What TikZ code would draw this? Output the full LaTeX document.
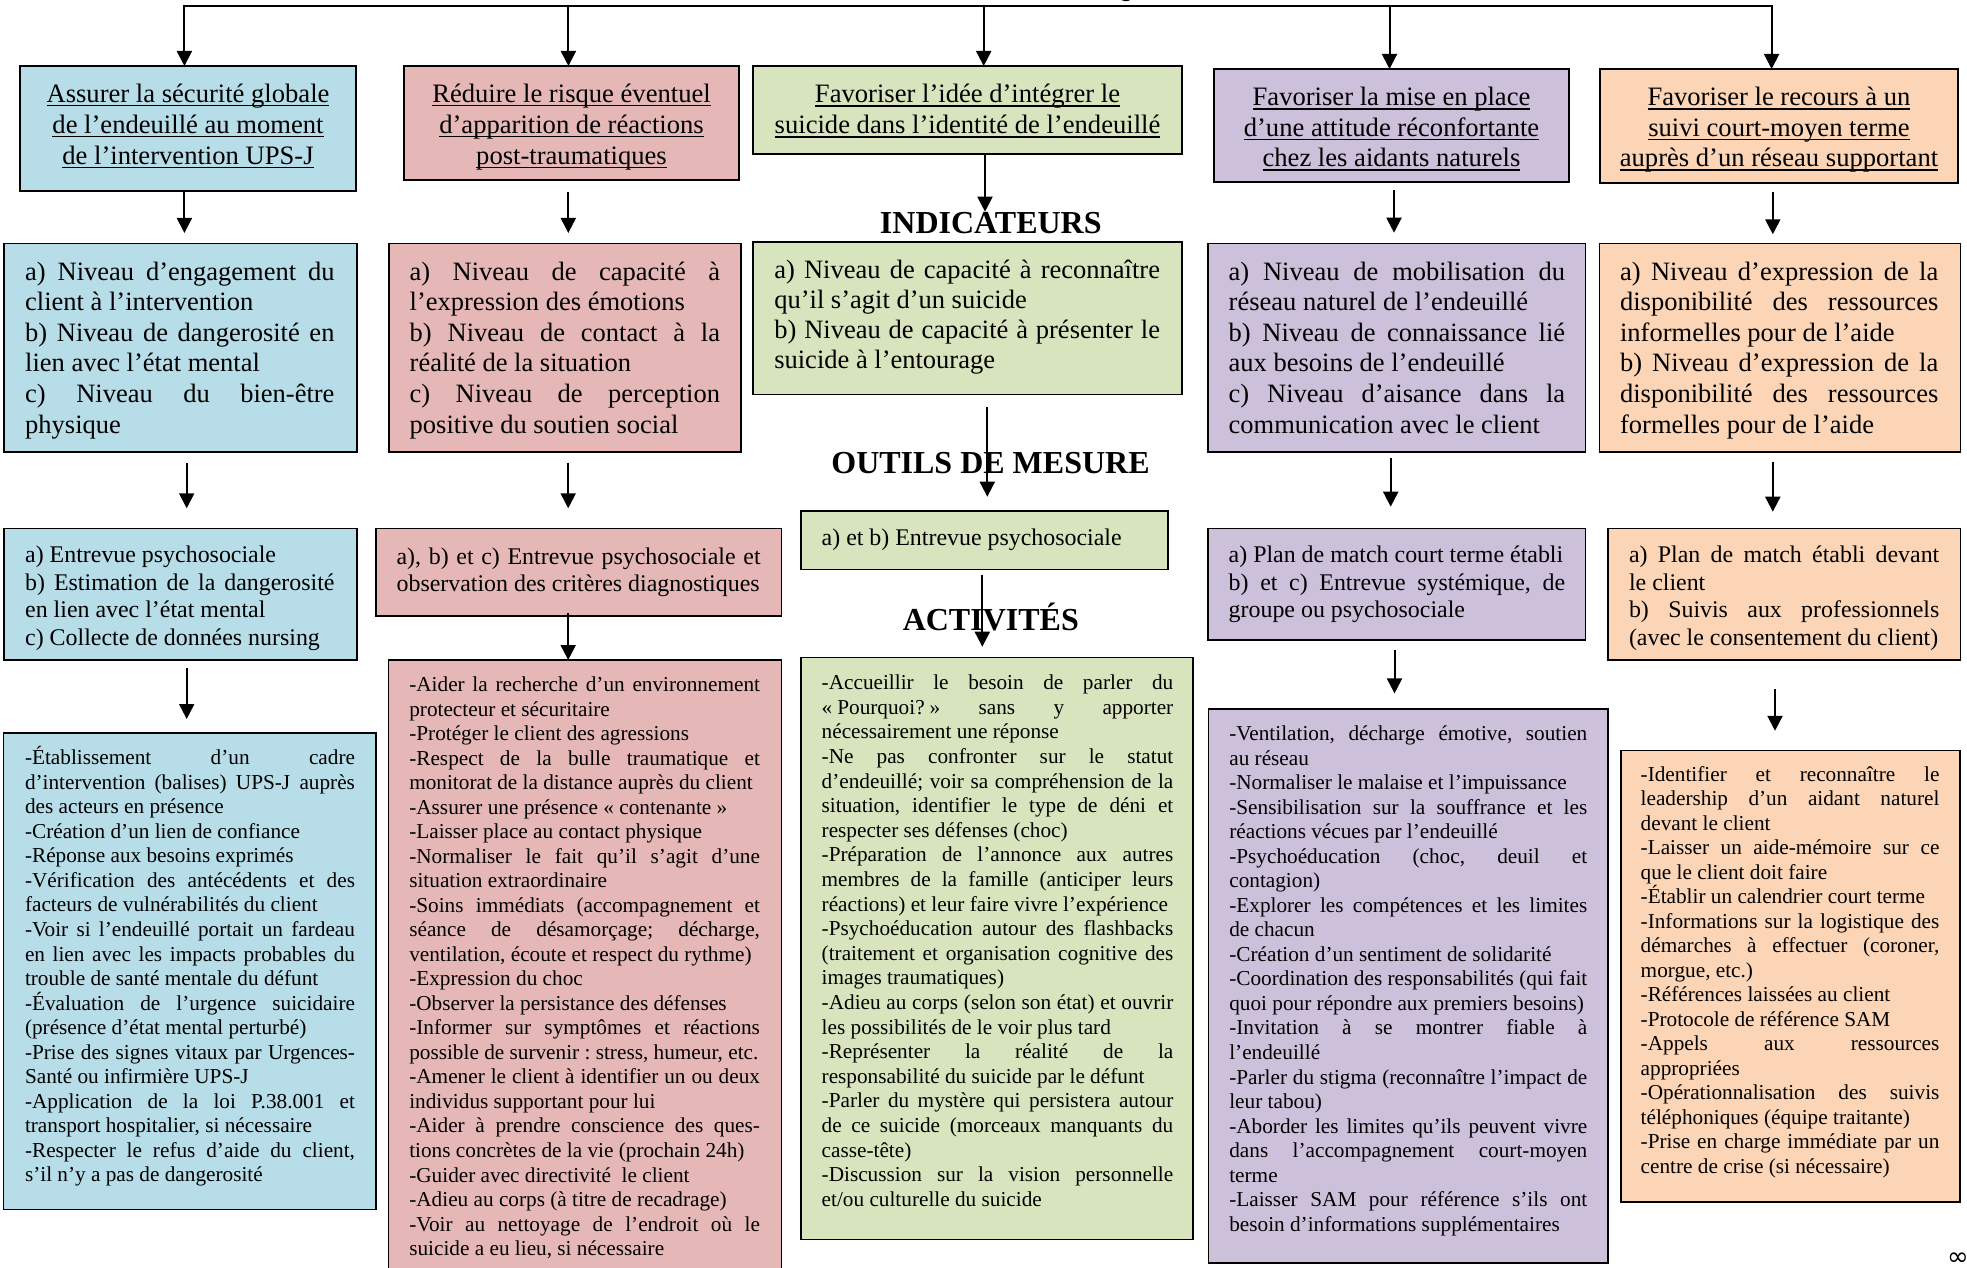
\documentclass[tikz,border=0pt]{standalone}
\usepackage{fontspec}
\setmainfont{Liberation Serif}
\newfontfamily\symfont{DejaVu Sans}
\usetikzlibrary{arrows.meta}
\definecolor{cblue}{HTML}{B7DDE8}
\definecolor{cred}{HTML}{E5B8B7}
\definecolor{cgreen}{HTML}{D7E4BD}
\definecolor{cpurple}{HTML}{CCC0DA}
\definecolor{corange}{HTML}{FBD5B5}
\newcommand\myul[1]{\setbox0=\hbox{#1}\rlap{\vrule width\wd0 height-2.2pt depth3.6pt}\box0}
\newcommand\Jl[1]{\hbox to \hsize{#1}}
\newcommand\Nl[1]{\hbox to \hsize{#1\hfil}}
\newcommand\Cl[1]{\hbox to \hsize{\hfil\myul{#1}\hfil}}
\newcommand\bx[6]{\node[#2, anchor=north west, minimum width={(#5-#3)*1pt}, minimum height={(#6-#4)*1pt}] (#1) at (#3,#4) {};}
\newcommand\tx[7]{\node[anchor=base west, inner sep=0pt, outer sep=0pt] (#1) at (#2,#3) {\vtop{\hsize=#4pt\fontsize{#5}{#6}\selectfont\frenchspacing\lineskiplimit=-100pt #7}};}
\begin{document}
\begin{tikzpicture}[x=1pt,y=-1pt,
  boxbase/.style={draw=black, line width=1.6pt, inner sep=0pt, outer sep=0pt},
  bbl/.style={boxbase, fill=cblue},
  bre/.style={boxbase, fill=cred},
  bgr/.style={boxbase, fill=cgreen},
  bpu/.style={boxbase, fill=cpurple},
  bor/.style={boxbase, fill=corange},
  hdr/.style={anchor=base, inner sep=0pt, font=\fontsize{32}{36}\selectfont\bfseries},
  arr/.style={-{Triangle[length=15pt,width=15pt]}, line width=2pt, black}]
\useasboundingbox (0,0) rectangle (1967,1268);
\clip (0,0) rectangle (1967,1268);
\fill[white] (0,0) rectangle (1967,1268);
% cut title fragment (as in the reference)
\node[anchor=base west, inner sep=0pt, font=\fontsize{32}{36}\selectfont\bfseries] (qfrag) at (1106,-3) {Q};
% ---------- boxes ----------
\bx{r1a}{bbl}{20}{66}{356}{191}
\bx{r1b}{bre}{404}{66}{739}{180}
\bx{r1c}{bgr}{753}{66}{1182}{154}
\bx{r1d}{bpu}{1214}{69}{1569}{182}
\bx{r1e}{bor}{1600}{69}{1958}{183}
\bx{r2a}{bbl}{4}{243.5}{357}{452}
\bx{r2b}{bre}{389}{243.5}{741}{452}
\bx{r2c}{bgr}{753}{242}{1182}{394.5}
\bx{r2d}{bpu}{1208}{243.5}{1585.5}{452}
\bx{r2e}{bor}{1599.5}{243.5}{1960.5}{452}
\bx{r3a}{bbl}{4}{528.5}{357}{660}
\bx{r3b}{bre}{376}{528.5}{781.5}{616}
\bx{r3c}{bgr}{801}{511}{1168}{569.5}
\bx{r3d}{bpu}{1208}{528.5}{1585.5}{640}
\bx{r3e}{bor}{1608}{528.5}{1960.5}{660}
\bx{r4a}{bbl}{3.5}{733}{376}{1209.5}
\bx{r4b}{bre}{388.5}{660}{781.5}{1285}
\bx{r4c}{bgr}{801}{657.5}{1193}{1239.5}
\bx{r4d}{bpu}{1208.5}{709}{1608}{1263}
\bx{r4e}{bor}{1621}{750.5}{1960}{1202}
% ---------- row 1 texts ----------
\tx{t1a}{20}{102.5}{336}{26.6}{31}{\Cl{Assurer la sécurité globale}\Cl{de l’endeuillé au moment}\Cl{de l’intervention UPS-J}}
\tx{t1b}{404}{102.5}{335}{26.6}{31}{\Cl{Réduire le risque éventuel}\Cl{d’apparition de réactions}\Cl{post-traumatiques}}
\tx{t1c}{753}{103}{429}{26.6}{31}{\Cl{Favoriser l’idée d’intégrer le}\Cl{suicide dans l’identité de l’endeuillé}}
\tx{t1d}{1214}{106}{355}{26.6}{30.5}{\Cl{Favoriser la mise en place}\Cl{d’une attitude réconfortante}\Cl{chez les aidants naturels}}
\tx{t1e}{1600}{106}{358}{26.6}{30.5}{\Cl{Favoriser le recours à un}\Cl{suivi court-moyen terme}\Cl{auprès d’un réseau supportant}}
% ---------- row 2 texts ----------
\tx{t2a}{25.2}{280}{309.3}{26.5}{30.6}{%
\Jl{a) Niveau d’engagement du}
\Nl{client à l’intervention}
\Jl{b) Niveau de dangerosité en}
\Nl{lien avec l’état mental}
\Jl{c) Niveau du bien-être}
\Nl{physique}}
\tx{t2b}{409.7}{280}{310.3}{26.5}{30.6}{%
\Jl{a) Niveau de capacité à}
\Nl{l’expression des émotions}
\Jl{b) Niveau de contact à la}
\Nl{réalité de la situation}
\Jl{c) Niveau de perception}
\Nl{positive du soutien social}}
\tx{t2c}{774.3}{278.3}{385.7}{26.5}{30.2}{%
\Jl{a) Niveau de capacité à reconnaître}
\Nl{qu’il s’agit d’un suicide}
\Jl{b) Niveau de capacité à présenter le}
\Nl{suicide à l’entourage}}
\tx{t2d}{1228.7}{280}{336.4}{26.5}{30.6}{%
\Jl{a) Niveau de mobilisation du}
\Nl{réseau naturel de l’endeuillé}
\Jl{b) Niveau de connaissance lié}
\Nl{aux besoins de l’endeuillé}
\Jl{c) Niveau d’aisance dans la}
\Nl{communication avec le client}}
\tx{t2e}{1620.1}{280}{318.2}{26.5}{30.6}{%
\Jl{a) Niveau d’expression de la}
\Jl{disponibilité des ressources}
\Nl{informelles pour de l’aide}
\Jl{b) Niveau d’expression de la}
\Jl{disponibilité des ressources}
\Nl{formelles pour de l’aide}}
% ---------- row 3 texts ----------
\tx{t3a}{25.2}{562.2}{309.3}{23.9}{27.8}{%
\Nl{a) Entrevue psychosociale}
\Jl{b) Estimation de la dangerosité}
\Nl{en lien avec l’état mental}
\Nl{c) Collecte de données nursing}}
\tx{t3b}{396.6}{564}{364}{23.9}{27.8}{%
\Jl{a), b) et c) Entrevue psychosociale et}
\Nl{observation des critères diagnostiques}}
\tx{t3c}{821.7}{545}{330}{23.9}{27.8}{%
\Nl{a) et b) Entrevue psychosociale}}
\tx{t3d}{1228.7}{562.2}{336.4}{23.9}{27.8}{%
\Nl{a) Plan de match court terme établi}
\Jl{b) et c) Entrevue systémique, de}
\Nl{groupe ou psychosociale}}
\tx{t3e}{1629}{562.2}{310.3}{23.9}{27.8}{%
\Jl{a) Plan de match établi devant}
\Nl{le client}
\Jl{b) Suivis aux professionnels}
\Nl{(avec le consentement du client)}}
% ---------- row 4 texts ----------
\tx{t4a}{25}{764.6}{330}{21.25}{24.55}{%
\Jl{-Établissement d’un cadre}
\Jl{d’intervention (balises) UPS-J auprès}
\Nl{des acteurs en présence}
\Nl{-Création d’un lien de confiance}
\Nl{-Réponse aux besoins exprimés}
\Jl{-Vérification des antécédents et des}
\Nl{facteurs de vulnérabilités du client}
\Jl{-Voir si l’endeuillé portait un fardeau}
\Jl{en lien avec les impacts probables du}
\Nl{trouble de santé mentale du défunt}
\Jl{-Évaluation de l’urgence suicidaire}
\Nl{(présence d’état mental perturbé)}
\Jl{-Prise des signes vitaux par Urgences-}
\Nl{Santé ou infirmière UPS-J}
\Jl{-Application de la loi P.38.001 et}
\Nl{transport hospitalier, si nécessaire}
\Jl{-Respecter le refus d’aide du client,}
\Nl{s’il n’y a pas de dangerosité}}
\tx{t4b}{409.3}{691.8}{350.7}{21.25}{24.51}{%
\Jl{-Aider la recherche d’un environnement}
\Nl{protecteur et sécuritaire}
\Nl{-Protéger le client des agressions}
\Jl{-Respect de la bulle traumatique et}
\Nl{monitorat de la distance auprès du client}
\Nl{-Assurer une présence « contenante »}
\Nl{-Laisser place au contact physique}
\Jl{-Normaliser le fait qu’il s’agit d’une}
\Nl{situation extraordinaire}
\Jl{-Soins immédiats (accompagnement et}
\Jl{séance de désamorçage; décharge,}
\Nl{ventilation, écoute et respect du rythme)}
\Nl{-Expression du choc}
\Nl{-Observer la persistance des défenses}
\Jl{-Informer sur symptômes et réactions}
\Nl{possible de survenir : stress, humeur, etc.}
\Jl{-Amener le client à identifier un ou deux}
\Nl{individus supportant pour lui}
\Jl{-Aider à prendre conscience des ques-}
\Nl{tions concrètes de la vie (prochain 24h)}
\Nl{-Guider avec directivité\ \ le client}
\Nl{-Adieu au corps (à titre de recadrage)}
\Jl{-Voir au nettoyage de l’endroit où le}
\Nl{suicide a eu lieu, si nécessaire}}
\tx{t4c}{821.7}{689.8}{351.6}{21.25}{24.59}{%
\Jl{-Accueillir le besoin de parler du}
\Jl{«\kern5pt Pourquoi?\kern5pt» sans y apporter}
\Nl{nécessairement une réponse}
\Jl{-Ne pas confronter sur le statut}
\Jl{d’endeuillé; voir sa compréhension de la}
\Jl{situation, identifier le type de déni et}
\Nl{respecter ses défenses (choc)}
\Jl{-Préparation de l’annonce aux autres}
\Jl{membres de la famille (anticiper leurs}
\Nl{réactions) et leur faire vivre l’expérience}
\Jl{-Psychoéducation autour des flashbacks}
\Jl{(traitement et organisation cognitive des}
\Nl{images traumatiques)}
\Jl{-Adieu au corps (selon son état) et ouvrir}
\Nl{les possibilités de le voir plus tard}
\Jl{-Représenter la réalité de la}
\Nl{responsabilité du suicide par le défunt}
\Jl{-Parler du mystère qui persistera autour}
\Jl{de ce suicide (morceaux manquants du}
\Nl{casse-tête)}
\Jl{-Discussion sur la vision personnelle}
\Nl{et/ou culturelle du suicide}}
\tx{t4d}{1229.3}{740.6}{358}{21.25}{24.53}{%
\Jl{-Ventilation, décharge émotive, soutien}
\Nl{au réseau}
\Nl{-Normaliser le malaise et l’impuissance}
\Jl{-Sensibilisation sur la souffrance et les}
\Nl{réactions vécues par l’endeuillé}
\Jl{-Psychoéducation (choc, deuil et}
\Nl{contagion)}
\Jl{-Explorer les compétences et les limites}
\Nl{de chacun}
\Nl{-Création d’un sentiment de solidarité}
\Jl{-Coordination des responsabilités (qui fait}
\Nl{quoi pour répondre aux premiers besoins)}
\Jl{-Invitation à se montrer fiable à}
\Nl{l’endeuillé}
\Jl{-Parler du stigma (reconnaître l’impact de}
\Nl{leur tabou)}
\Jl{-Aborder les limites qu’ils peuvent vivre}
\Jl{dans l’accompagnement court-moyen}
\Nl{terme}
\Jl{-Laisser SAM pour référence s’ils ont}
\Nl{besoin d’informations supplémentaires}}
\tx{t4e}{1640.7}{781}{298.7}{21.25}{24.51}{%
\Jl{-Identifier et reconnaître le}
\Jl{leadership d’un aidant naturel}
\Nl{devant le client}
\Jl{-Laisser un aide-mémoire sur ce}
\Nl{que le client doit faire}
\Nl{-Établir un calendrier court terme}
\Jl{-Informations sur la logistique des}
\Jl{démarches à effectuer (coroner,}
\Nl{morgue, etc.)}
\Nl{-Références laissées au client}
\Nl{-Protocole de référence SAM}
\Jl{-Appels aux ressources}
\Nl{appropriées}
\Jl{-Opérationnalisation des suivis}
\Nl{téléphoniques (équipe traitante)}
\Jl{-Prise en charge immédiate par un}
\Nl{centre de crise (si nécessaire)}}
% ---------- headers ----------
\node[hdr] (hind) at (990.8,233.5) {INDICATEURS};
\node[hdr] (hout) at (990.5,473) {OUTILS DE MESURE};
\node[hdr] (hact) at (990.8,630.5) {ACTIVITÉS};
% corner symbol
\node[anchor=west, inner sep=0pt, font=\symfont\fontsize{26}{30}\selectfont] (inf) at (1947,1259) {∞};
% ---------- connectors ----------
\coordinate (k1) at (184.4,6);
\coordinate (k2) at (568.4,6);
\coordinate (k3) at (983.7,6);
\coordinate (k4) at (1389.5,6);
\coordinate (k5) at (1771.6,6);
\draw[line width=2pt, line cap=rect] (k1) -- (k5);
\draw[arr] (k1) -- (k1 |- r1a.north);
\draw[arr] (k2) -- (k2 |- r1b.north);
\draw[arr] (k3) -- (k3 |- r1c.north);
\draw[arr] (k4) -- (k4 |- r1d.north);
\draw[arr] (k5) -- (k5 |- r1e.north);
% row 1 -> row 2
\coordinate (a1s) at (184.4,192);  \coordinate (a1e) at (184.4,233);
\coordinate (b1s) at (568.3,192);  \coordinate (b1e) at (568.3,233);
\coordinate (c1e) at (985,211.7);
\coordinate (d1s) at (1394,190);   \coordinate (d1e) at (1394,232.7);
\coordinate (e1s) at (1772.8,191.7); \coordinate (e1e) at (1772.8,234.3);
\draw[arr] (a1s) -- (a1e);
\draw[arr] (b1s) -- (b1e);
\draw[arr] (r1c.south -| c1e) -- (c1e);
\draw[arr] (d1s) -- (d1e);
\draw[arr] (e1s) -- (e1e);
% row 2 -> row 3
\coordinate (a2s) at (186.7,462.7);  \coordinate (a2e) at (186.7,508.3);
\coordinate (b2s) at (568.2,462.7);  \coordinate (b2e) at (568.2,508.3);
\coordinate (c2s) at (987.3,406.7);  \coordinate (c2e) at (987.3,496.7);
\coordinate (d2s) at (1390.7,458.3); \coordinate (d2e) at (1390.7,506.7);
\coordinate (e2s) at (1772.8,461.7); \coordinate (e2e) at (1772.8,511.7);
\draw[arr] (a2s) -- (a2e);
\draw[arr] (b2s) -- (b2e);
\draw[arr] (c2s) -- (c2e);
\draw[arr] (d2s) -- (d2e);
\draw[arr] (e2s) -- (e2e);
% row 3 -> row 4
\coordinate (a3s) at (186.7,667.7);  \coordinate (a3e) at (186.7,719);
\coordinate (b3s) at (568.2,613);
\coordinate (c3s) at (982.3,575);    \coordinate (c3e) at (982.3,646.7);
\coordinate (d3s) at (1394.5,650);   \coordinate (d3e) at (1394.5,693.4);
\coordinate (e3s) at (1775,689.4);   \coordinate (e3e) at (1775,730.8);
\draw[arr] (a3s) -- (a3e);
\draw[arr] (b3s) -- (b3s |- r4b.north);
\draw[arr] (c3s) -- (c3e);
\draw[arr] (d3s) -- (d3e);
\draw[arr] (e3s) -- (e3e);
\end{tikzpicture}
\end{document}
